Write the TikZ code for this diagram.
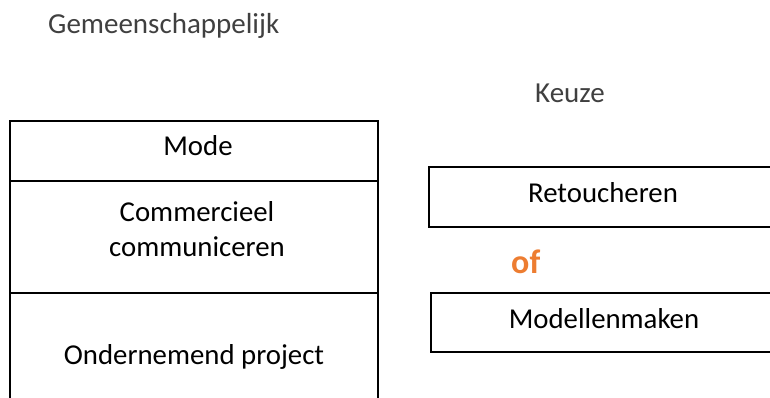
\documentclass[tikz,border=0pt]{standalone}
\usepackage{fontspec}
\setmainfont{Carlito}
\definecolor{hdrgray}{HTML}{404040}
\definecolor{oforange}{HTML}{ED7D31}
\tikzset{
  boxline/.style={draw=black, line width=1.2pt},
  lbl/.style={inner sep=0pt, anchor=base, font=\fontsize{28.8}{35}\selectfont, text=black},
  hdr/.style={inner sep=0pt, anchor=base west, font=\fontsize{29}{34}\selectfont, text=hdrgray},
}
\begin{document}
\begin{tikzpicture}[x=1pt,y=-1pt]
\clip (0,0) rectangle (770,398);
\useasboundingbox (0,0) rectangle (770,398);
% headers
\node[hdr] (gem) at (48,34) {Gemeenschappelijk};
\node[hdr] (keuze) at (535,103) {Keuze};
% left stacked box
\draw[boxline] (10,420) -- (10,121) -- (378,121) -- (378,420);
\draw[boxline] (10,181) -- (378,181);
\draw[boxline] (10,293) -- (378,293);
\node[lbl] (mode) at (198,156) {Mode};
\node[lbl, align=center] (comm) at (197,256) {Commercieel\\communiceren};
\node[lbl] (ond) at (194,364) {Ondernemend project};
% right boxes
\draw[boxline] (775,167) -- (429,167) -- (429,227) -- (775,227);
\node[lbl] (ret) at (603,202) {Retoucheren};
\node[inner sep=0pt, anchor=base west, font=\fontsize{34}{40}\selectfont\bfseries, text=oforange] (of) at (511,273) {of};
\draw[boxline] (775,293) -- (431,293) -- (431,352) -- (775,352);
\node[lbl] (mod) at (604,328) {Modellenmaken};
\end{tikzpicture}
\end{document}
